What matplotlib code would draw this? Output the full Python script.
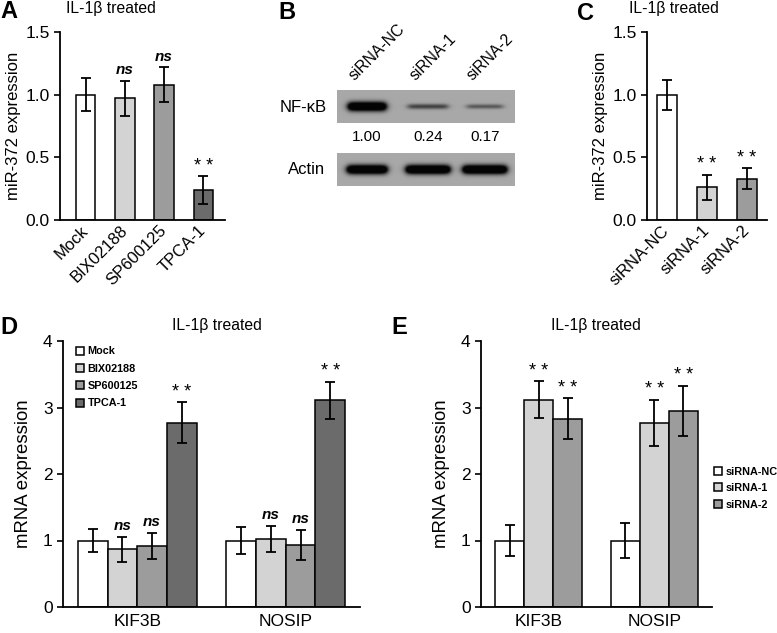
import matplotlib
matplotlib.use('Agg')

import matplotlib.pyplot as plt
import numpy as np

plt.rcParams['font.family'] = ['Liberation Sans', 'DejaVu Sans']

# ---- datos ----
a_labels = ['Mock', 'BIX02188', 'SP600125', 'TPCA-1']
a_vals = [1.00, 0.97, 1.08, 0.24]
a_errs = [0.13, 0.14, 0.14, 0.11]
a_marks = ['', 'ns', 'ns', '**']

b_lanes = ['siRNA-NC', 'siRNA-1', 'siRNA-2']
b_nfkb = [1.00, 0.24, 0.17]
b_actin = [1.00, 1.00, 1.00]

c_labels = ['siRNA-NC', 'siRNA-1', 'siRNA-2']
c_vals = [1.00, 0.26, 0.33]
c_errs = [0.12, 0.10, 0.085]
c_marks = ['', '**', '**']

genes = ['KIF3B', 'NOSIP']
d_series = ['Mock', 'BIX02188', 'SP600125', 'TPCA-1']
d_mock = [1.00, 1.00]
d_mock_err = [0.17, 0.21]
d_bix = [0.87, 1.02]
d_bix_err = [0.19, 0.20]
d_sp = [0.92, 0.93]
d_sp_err = [0.20, 0.23]
d_tpca = [2.77, 3.11]
d_tpca_err = [0.31, 0.28]
d_marks = ['', 'ns', 'ns', '**']

e_series = ['siRNA-NC', 'siRNA-1', 'siRNA-2']
e_nc = [1.00, 1.00]
e_nc_err = [0.23, 0.27]
e_si1 = [3.12, 2.77]
e_si1_err = [0.28, 0.35]
e_si2 = [2.83, 2.95]
e_si2_err = [0.31, 0.38]
e_marks = ['', '**', '**']

colores = ['white', '#d3d3d3', '#9c9c9c', '#6b6b6b']

W, H = 777, 633
fig = plt.figure(figsize=(W / 100, H / 100), dpi=100)


def caja(x0, y0, x1, y1):
    return [x0 / W, 1 - y1 / H, (x1 - x0) / W, (y1 - y0) / H]


def texto(x, y, s, **kw):
    fig.text(x / W, 1 - y / H, s, **kw)


def estilo(ax):
    ax.spines['top'].set_visible(False)
    ax.spines['right'].set_visible(False)
    ax.spines['left'].set_linewidth(1.3)
    ax.spines['bottom'].set_linewidth(1.3)
    ax.tick_params(axis='y', direction='out', length=4, width=1.2)
    ax.tick_params(axis='x', length=0)


def marca(ax, x, top, m):
    if m == 'ns':
        ax.annotate('ns', (x, top), xytext=(0, 7.5), textcoords='offset points',
                    ha='center', va='center', fontsize=11,
                    fontweight='bold', fontstyle='italic')
    elif m == '**':
        ax.annotate('* *', (x, top), xytext=(0, 1), textcoords='offset points',
                    ha='center', va='bottom', fontsize=13)


def barras_simple(ax, labels, vals, errs, marks):
    x = np.arange(len(vals))
    ax.bar(x, vals, width=0.5, color=colores[:len(vals)], edgecolor='black',
           linewidth=1.1, zorder=2)
    ax.errorbar(x, vals, yerr=errs, fmt='none', ecolor='black',
                elinewidth=1.3, capsize=3.5, capthick=1.3, zorder=3)
    for xi, v, e, m in zip(x, vals, errs, marks):
        marca(ax, xi, v + e, m)
    ax.set_ylim(0, 1.5)
    ax.set_yticks([0, 0.5, 1.0, 1.5])
    ax.set_yticklabels(['0.0', '0.5', '1.0', '1.5'], fontsize=12.5)
    ax.set_xticks(x)
    ax.set_xticklabels(labels, rotation=45, ha='right', va='center',
                       rotation_mode='anchor', fontsize=12)
    ax.tick_params(axis='x', pad=6)
    ax.set_ylabel('miR-372 expression', fontsize=12, labelpad=3)
    estilo(ax)


# ---- A ----
axA = fig.add_axes(caja(60, 32, 225, 220))
barras_simple(axA, a_labels, a_vals, a_errs, a_marks)
axA.set_xlim(-0.65, 3.55)

# ---- C ----
axC = fig.add_axes(caja(647, 32, 767, 220))
barras_simple(axC, c_labels, c_vals, c_errs, c_marks)
axC.set_xlim(-0.5, 2.5)

# ---- B (western blot) ----
axB = fig.add_axes(caja(330, 70, 520, 190))
axB.set_xlim(330, 520)
axB.set_ylim(190, 70)
axB.axis('off')

carriles = [367, 428, 485]


def tira(y0, y1, intens, ancho):
    xs = np.linspace(337, 515, 356)
    ys = np.linspace(y0, y1, 66)
    X, Y = np.meshgrid(xs, ys)
    cy = (y0 + y1) / 2
    osc = np.zeros_like(X)
    for cx, v, hw in zip(carriles, intens, ancho):
        amp = 1.7 * v ** 0.7
        sy = 4.6 * v ** 0.4
        osc += amp * np.exp(-((Y - cy) / sy) ** 2) / (1 + np.exp((np.abs(X - cx) - hw) / 1.8))
    img = 0.66 * (1 - np.clip(osc, 0, 0.97))
    axB.imshow(img, cmap='gray', vmin=0, vmax=1, extent=(337, 515, y1, y0),
               aspect='auto', interpolation='bilinear')


tira(90, 123, b_nfkb, [19, 20, 18])
tira(153, 186, b_actin, [20, 22, 22])
axB.text(327, 107, 'NF-κB', ha='right', va='center', fontsize=12)
axB.text(325, 170, 'Actin', ha='right', va='center', fontsize=12)
for cx, v in zip(carriles, b_nfkb):
    axB.text(cx, 137, f'{v:.2f}', ha='center', va='center', fontsize=11)
for cx, lab in zip(carriles, b_lanes):
    axB.text(cx - 10, 83, lab, rotation=45, rotation_mode='anchor',
             ha='left', va='bottom', fontsize=11.3)


# ---- D y E ----
def barras_grupo(ax, series, vals, errs, marks, ancho):
    n = len(series)
    x = np.arange(len(genes))
    for i in range(n):
        off = (i - (n - 1) / 2) * ancho
        ax.bar(x + off, vals[i], width=ancho, color=colores[i], edgecolor='black',
               linewidth=1.1, label=series[i], zorder=2)
        ax.errorbar(x + off, vals[i], yerr=errs[i], fmt='none', ecolor='black',
                    elinewidth=1.3, capsize=3.5, capthick=1.3, zorder=3)
        for xi, v, e in zip(x + off, vals[i], errs[i]):
            marca(ax, xi, v + e, marks[i])
    ax.set_ylim(0, 4)
    ax.set_yticks([0, 1, 2, 3, 4])
    ax.tick_params(axis='y', labelsize=12.5)
    ax.set_xticks(x)
    ax.set_xticklabels(genes, fontsize=12.5)
    ax.tick_params(axis='x', pad=5)
    ax.set_xlim(-0.5, 1.5)
    ax.set_ylabel('mRNA expression', fontsize=13.4, labelpad=8)
    estilo(ax)


leyenda = dict(frameon=False, prop={'weight': 'bold', 'size': 7.8},
               handlelength=0.75, handleheight=0.75, handletextpad=0.3,
               borderaxespad=0, borderpad=0)

axD = fig.add_axes(caja(63, 341, 360, 607))
barras_grupo(axD, d_series, [d_mock, d_bix, d_sp, d_tpca],
             [d_mock_err, d_bix_err, d_sp_err, d_tpca_err], d_marks, 0.2)
axD.legend(loc='upper left', bbox_to_anchor=(0.045, 0.98), labelspacing=0.68,
           **leyenda)

axE = fig.add_axes(caja(481, 341, 712, 607))
barras_grupo(axE, e_series, [e_nc, e_si1, e_si2],
             [e_nc_err, e_si1_err, e_si2_err], e_marks, 0.25)
axE.legend(loc='center left', bbox_to_anchor=(1.01, 0.447), labelspacing=0.6,
           **leyenda)

# ---- títulos y letras ----
for x, y in [(111, 8), (674, 8), (217, 326), (596, 326)]:
    texto(x, y, 'IL-1β treated', ha='center', va='center', fontsize=11.3)
for x, y, s in [(0, 0, 'A'), (278, 1, 'B'), (577, 2, 'C'), (0, 316, 'D'), (391, 316, 'E')]:
    texto(x, y, s, ha='left', va='top', fontsize=17, fontweight='bold')

plt.savefig('out.png', dpi=100)
